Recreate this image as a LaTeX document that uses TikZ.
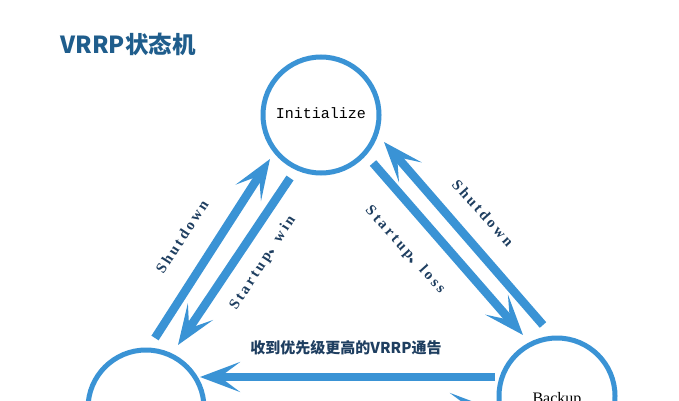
\documentclass[tikz,border=0pt]{standalone}
\usepackage{fontspec}
\usetikzlibrary{arrows.meta}
\newfontfamily\cjk{Noto Sans CJK SC}
\newfontfamily\monof{Liberation Mono}
\newfontfamily\lblf[LetterSpace=18]{Liberation Serif}
\newfontfamily\serf{Liberation Serif}
\definecolor{arrblue}{RGB}{58,147,213}
\definecolor{titleblue}{RGB}{31,93,140}
\definecolor{lblblue}{RGB}{30,62,96}
\begin{document}
\begin{tikzpicture}[x=1pt,y=1pt,
  state/.style={circle,draw=arrblue,line width=5pt,minimum size=116pt,inner sep=0pt},
  flow/.style={draw=arrblue,line width=8.5pt,-{Stealth[length=40pt,width=30pt,inset=20pt]}},
  lbl/.style={text=lblblue,font=\lblf\bfseries\fontsize{15}{17}\selectfont,inner sep=0pt}]
\useasboundingbox (0,0) rectangle (679,400);
\clip (0,0) rectangle (679,400);
\fill[white] (0,0) rectangle (679,400);
\node[text=titleblue,font=\cjk\bfseries\fontsize{23.5}{25}\selectfont] (title) at (128,356) {VRRP状态机};
\node[state] (init) at (321,285) {};
\node[font=\monof\fontsize{15}{17}\selectfont] (initt) at (321,287) {Initialize};
\node[state] (backup) at (557,4) {};
\node[font=\serf\fontsize{16}{18}\selectfont,anchor=base] (backupt) at (557,-3) {Backup};
\node[state] (master) at (146,-8) {};
% connector end points
\coordinate (a1) at (155,62);  \coordinate (b1) at (270,241);
\coordinate (a2) at (290,222); \coordinate (b2) at (178,55);
\coordinate (a3) at (373,237); \coordinate (b3) at (523,65);
\coordinate (a4) at (543,75);  \coordinate (b4) at (384,258);
\coordinate (a5) at (495,23);  \coordinate (b5) at (200,23);
\coordinate (a6) at (205,-8);  \coordinate (b6) at (490,-8);
\draw[flow] (a1) -- (b1);
\draw[flow] (a2) -- (b2);
\draw[flow] (a3) -- (b3);
\draw[flow] (a4) -- (b4);
\draw[flow] (a5) -- (b5);
\draw[flow] (a6) -- (b6);
\node[lbl,rotate=57] (l1) at (182,163) {Shutdown};
\node[lbl,rotate=57] (l2) at (263,137) {Startup{\cjk 、}win};
\node[lbl,rotate=-48] (l3) at (405,150) {Startup{\cjk 、}loss};
\node[lbl,rotate=-48] (l4) at (483,187) {Shutdown};
\node[text=lblblue,font=\cjk\bfseries\fontsize{15}{17}\selectfont] (l5) at (346,52) {收到优先级更高的VRRP通告};
\end{tikzpicture}
\end{document}
